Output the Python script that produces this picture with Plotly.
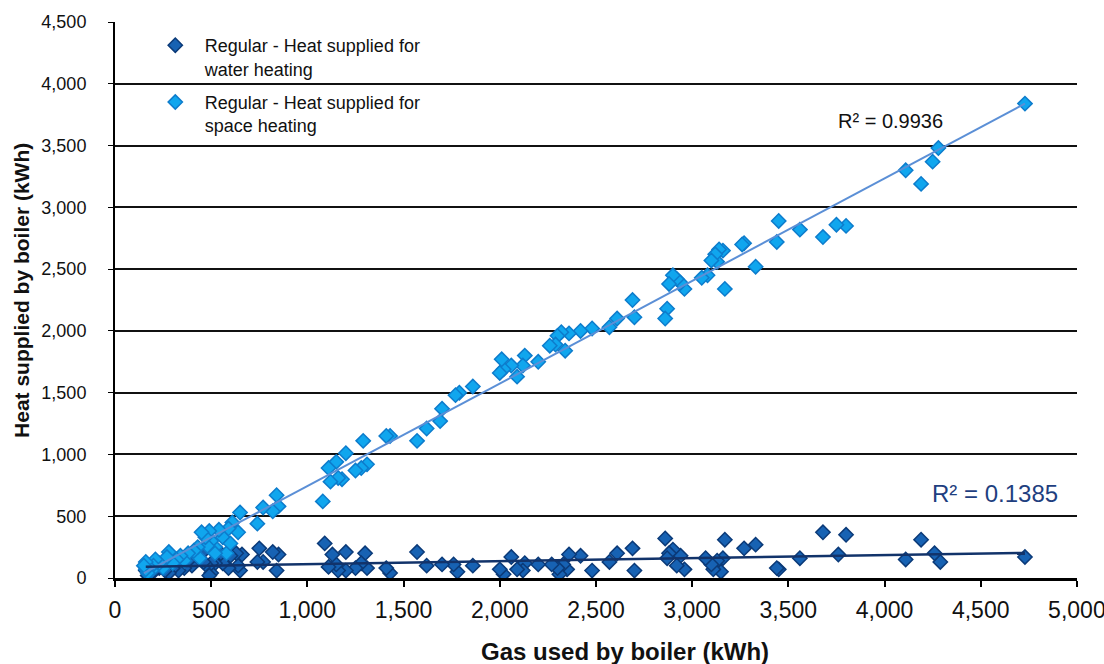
import numpy as np
import plotly.graph_objects as go

# Space heating series (gas used kWh, heat supplied kWh)
space_x = [4730, 4280, 4250, 4190, 4110, 3800, 3750, 3680, 3560, 3450, 3440, 3330, 3270, 3260,
           3170, 3160, 3140, 3130, 3120, 3100, 3080, 3050, 2960, 2940, 2920, 2900, 2880, 2870,
           2860, 2700, 2690, 2610, 2570, 2480, 2420, 2360, 2340, 2320, 2300, 2290, 2260, 2200,
           2130, 2120, 2090, 2060, 2020, 2010, 2000, 1860, 1790, 1770, 1700, 1690, 1620, 1570,
           1430, 1410, 1310, 1290, 1280, 1250, 1200, 1180, 1160, 1150, 1120, 1110, 1080, 850,
           840, 820, 770, 740, 650, 640, 610, 590, 580, 560, 540, 520, 520, 500, 490, 480, 470,
           450, 440, 430, 410, 380, 360, 340, 320, 300, 280, 270, 250, 230, 210, 200, 190, 180,
           170, 160, 160, 150, 600]
space_y = [3840, 3480, 3370, 3190, 3300, 2850, 2860, 2760, 2820, 2890, 2720, 2520, 2710, 2700,
           2340, 2650, 2660, 2560, 2620, 2570, 2450, 2430, 2340, 2390, 2420, 2450, 2380, 2180,
           2100, 2110, 2250, 2100, 2030, 2020, 2000, 1980, 1840, 1990, 1960, 1890, 1880, 1750,
           1800, 1720, 1630, 1720, 1690, 1770, 1660, 1550, 1500, 1480, 1370, 1270, 1210, 1110,
           1150, 1150, 920, 1110, 890, 870, 1010, 800, 810, 940, 780, 890, 620, 580,
           670, 540, 570, 440, 530, 370, 450, 400, 200, 330, 390, 250, 200, 300, 380, 260, 330,
           370, 160, 250, 220, 200, 140, 180, 150, 120, 210, 170, 80, 120, 150, 100, 60, 80,
           40, 70, 130, 100, 280]

# Water heating series
water_x = [4730, 4290, 4260, 4190, 4110, 3800, 3760, 3680, 3560, 3450, 3440, 3330, 3270, 3170,
           3160, 3150, 3130, 3110, 3100, 3070, 2960, 2940, 2920, 2900, 2880, 2870, 2860, 2700,
           2690, 2610, 2570, 2480, 2420, 2360, 2350, 2330, 2310, 2300, 2270, 2200, 2130, 2120,
           2090, 2060, 2020, 2000, 1860, 1780, 1760, 1700, 1620, 1570, 1430, 1410, 1310, 1300,
           1280, 1250, 1200, 1200, 1160, 1150, 1130, 1110, 1090, 850, 840, 820, 770, 750, 740,
           660, 650, 640, 630, 600, 590, 560, 550, 520, 500, 500, 490, 470, 460, 450, 400, 380,
           360, 330, 300, 280, 260, 230, 200, 180, 170, 160]
water_y = [170, 130, 200, 310, 150, 350, 190, 370, 160, 70, 80, 270, 240, 310,
           160, 50, 140, 70, 110, 160, 70, 180, 100, 230, 200, 160, 320, 60,
           240, 200, 130, 60, 180, 190, 70, 110, 30, 80, 110, 110, 120, 60,
           70, 170, 30, 70, 100, 50, 110, 110, 100, 210, 40, 80, 80, 200,
           120, 80, 60, 210, 60, 110, 190, 90, 280, 190, 60, 210, 130, 240, 130,
           190, 60, 100, 200, 180, 80, 120, 200, 120, 40, 120, 20, 110, 130, 200, 100, 140,
           80, 60, 80, 40, 60, 80, 50, 40, 20, 60]

x_ticks = [0, 500, 1000, 1500, 2000, 2500, 3000, 3500, 4000, 4500, 5000]
y_ticks = [0, 500, 1000, 1500, 2000, 2500, 3000, 3500, 4000, 4500]

water_name = "Regular - Heat supplied for<br>water heating"
space_name = "Regular - Heat supplied for<br>space heating"
r2_space = "R² = 0.9936"
r2_water = "R² = 0.1385"
x_title = "<b>Gas used by boiler (kWh)</b>"
y_title = "<b>Heat supplied by boiler (kWh)</b>"

WATER_FILL = "#1762b3"
WATER_EDGE = "#0b3a78"
SPACE_FILL = "#10a6ee"
SPACE_EDGE = "#0d7ccc"

fig = go.Figure()
fig.add_trace(go.Scatter(
    x=water_x, y=water_y, mode="markers", name=water_name, legendgroup="w",
    marker=dict(symbol="diamond", size=11, color=WATER_FILL,
                line=dict(color=WATER_EDGE, width=1.5)),
))
fig.add_trace(go.Scatter(
    x=space_x, y=space_y, mode="markers", name=space_name, legendgroup="s",
    marker=dict(symbol="diamond", size=11, color=SPACE_FILL,
                line=dict(color=SPACE_EDGE, width=1.5)),
))

# Linear trendlines (least-squares fits of the series)
for xs, ys, col, w in [(space_x, space_y, "#5b8fd6", 2), (water_x, water_y, "#12336a", 2.5)]:
    m, c = np.polyfit(xs, ys, 1)
    xx = [min(xs), max(xs)]
    fig.add_trace(go.Scatter(x=xx, y=[m * v + c for v in xx], mode="lines",
                             line=dict(color=col, width=w), showlegend=False,
                             hoverinfo="skip"))

fig.add_annotation(x=4315, y=3700, text=r2_space, showarrow=False,
                   font=dict(family="Liberation Sans, Arial", size=20, color="#111111"),
                   xanchor="right", yanchor="middle")
fig.add_annotation(x=4912, y=687, text=r2_water, showarrow=False,
                   font=dict(family="Liberation Sans, Arial", size=24, color="#1f3f7f"),
                   xanchor="right", yanchor="middle")

# Axis titles placed as paper annotations
fig.add_annotation(xref="paper", yref="paper", x=0.530, y=-0.133, text=x_title,
                   showarrow=False, xanchor="center", yanchor="middle",
                   font=dict(family="Liberation Sans Narrow, Arial Narrow, Liberation Sans",
                             size=24, color="#111111"))
fig.add_annotation(xref="paper", yref="paper", x=-0.0967, y=0.518, text=y_title,
                   showarrow=False, xanchor="center", yanchor="middle", textangle=-90,
                   font=dict(family="Liberation Sans, Arial", size=21, color="#111111"))

# White legend panel hiding the gridline behind the legend
fig.add_shape(type="rect", xref="paper", yref="paper", x0=0.0187, x1=0.4106,
              y0=0.79, y1=0.984, fillcolor="white", line=dict(width=0), layer="between")

fig.update_layout(
    width=1104, height=664,
    margin=dict(l=115, r=27, t=22, b=86),
    paper_bgcolor="white", plot_bgcolor="white",
    font=dict(family="Liberation Sans, Arial", color="#111111"),
    showlegend=True,
    legend=dict(x=0.032, y=0.991, xanchor="left", yanchor="top",
                bgcolor="rgba(255,255,255,0)", borderwidth=0,
                font=dict(size=18, color="#111111"),
                valign="top", tracegroupgap=7, itemwidth=49),
    xaxis=dict(range=[0, 5000.5], tickvals=x_ticks, tickformat=",d", automargin=False,
               showgrid=False, zeroline=False,
               showline=True, linecolor="black", linewidth=3,
               ticks="outside", ticklen=6, tickcolor="black", tickwidth=2,
               tickfont=dict(family="Liberation Sans Narrow, Arial Narrow, Liberation Sans", size=23,
                             color="#111111"),
               ticklabelstandoff=3, ticklabeloverflow="allow"),
    yaxis=dict(range=[0, 4500.5], tickvals=y_ticks, tickformat=",d", automargin=False,
               showgrid=True, gridcolor="#111111", gridwidth=2, zeroline=False,
               showline=True, linecolor="black", linewidth=2,
               ticks="outside", ticklen=5, tickcolor="black", tickwidth=1,
               tickfont=dict(size=18, color="#111111"),
               ticklabelstandoff=18, ticklabeloverflow="allow"),
    hovermode=False,
)

fig.write_html("out.html", config={"displayModeBar": False},
               post_script="document.body.style.margin='0px';")
